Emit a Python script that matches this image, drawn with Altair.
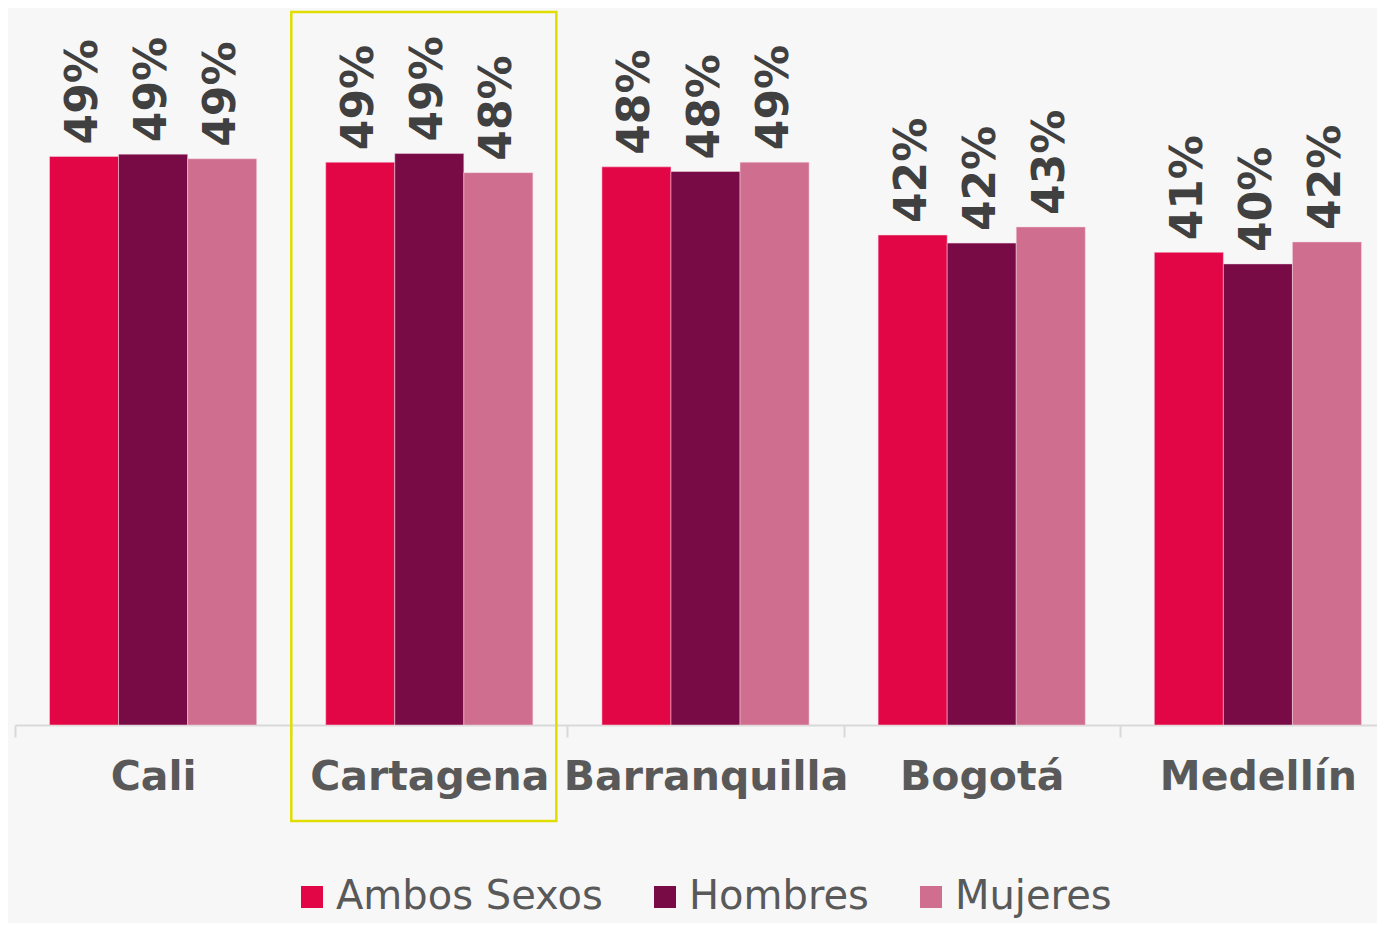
import altair as alt
import pandas as pd

cities = ["Cali", "Cartagena", "Barranquilla", "Bogotá", "Medellín"]
series = ["Ambos Sexos", "Hombres", "Mujeres"]
ambos = [49.2, 48.7, 48.3, 42.4, 40.9]
hombres = [49.4, 49.45, 47.9, 41.7, 39.9]
mujeres = [49.0, 47.8, 48.7, 43.1, 41.8]
colors = ["#E30647", "#780A45", "#D06E8F"]

rows = []
for i, c in enumerate(cities):
    for s, vals in zip(series, [ambos, hombres, mujeres]):
        rows.append({"city": c, "serie": s, "value": vals[i]})
df = pd.DataFrame(rows)

W = 1362
H = 713
STEP_RANGE = 1381

xscale = alt.Scale(domain=cities, paddingInner=0, paddingOuter=0, range=[0, STEP_RANGE])
offscale = alt.Scale(domain=series, paddingInner=0, paddingOuter=0.5)
yscale = alt.Scale(domain=[0, 61.7], nice=False, zero=True)

base = alt.Chart(df)

bars = base.mark_bar(stroke="#f3dbe2", strokeWidth=0.5).encode(
    x=alt.X("city:N", scale=xscale, sort=cities,
            axis=alt.Axis(title=None, labelAngle=0, labelFont="DejaVu Sans", labelFontWeight="bold",
                          labelFontSize=41, labelColor="#595959", labelPadding=20,
                          domainColor="#d9d9d9", domainWidth=2, tickColor="#d9d9d9",
                          tickWidth=2, tickSize=12, tickBand="extent", labelLimit=0)),
    xOffset=alt.XOffset("serie:N", sort=series, scale=offscale),
    y=alt.Y("value:Q", scale=yscale, axis=None),
    color=alt.Color("serie:N", sort=series, scale=alt.Scale(domain=series, range=colors),
                    legend=alt.Legend(title=None, orient="none", direction="horizontal",
                                      legendX=277, legendY=865,
                                      symbolType="square", symbolSize=484, symbolStrokeWidth=0,
                                      labelFont="DejaVu Sans", labelFontSize=40, labelColor="#595959",
                                      labelOffset=4, columnPadding=42, labelLimit=0)),
)

labels = base.transform_calculate(
    lbl="round(datum.value) + '%'"
).mark_text(angle=270, align="left", baseline="middle", dx=12,
            font="DejaVu Sans", fontWeight="bold", fontSize=44, color="#404040").encode(
    x=alt.X("city:N", scale=xscale, sort=cities),
    xOffset=alt.XOffset("serie:N", sort=series, scale=offscale),
    y=alt.Y("value:Q", scale=yscale),
    text="lbl:N",
)

hl = alt.Chart(pd.DataFrame({"city": ["Cartagena"]})).mark_bar(
    width=265, xOffset=-5.5, fillOpacity=0, fill="#ffffff", stroke="#E2DD00", strokeWidth=2.5
).encode(
    x=alt.X("city:N", scale=xscale, sort=cities),
    y=alt.value(0),
    y2=alt.value(809),
)

chart = alt.layer(bars, labels, hl).properties(
    width=W, height=H, background="#f7f7f7",
    padding={"left": 7, "top": 4, "right": 0, "bottom": 198},
    autosize=alt.AutoSizeParams(type="none"),
).configure_view(stroke=None)

chart.save("out.html", embed_options={"renderer": "svg", "actions": False})
